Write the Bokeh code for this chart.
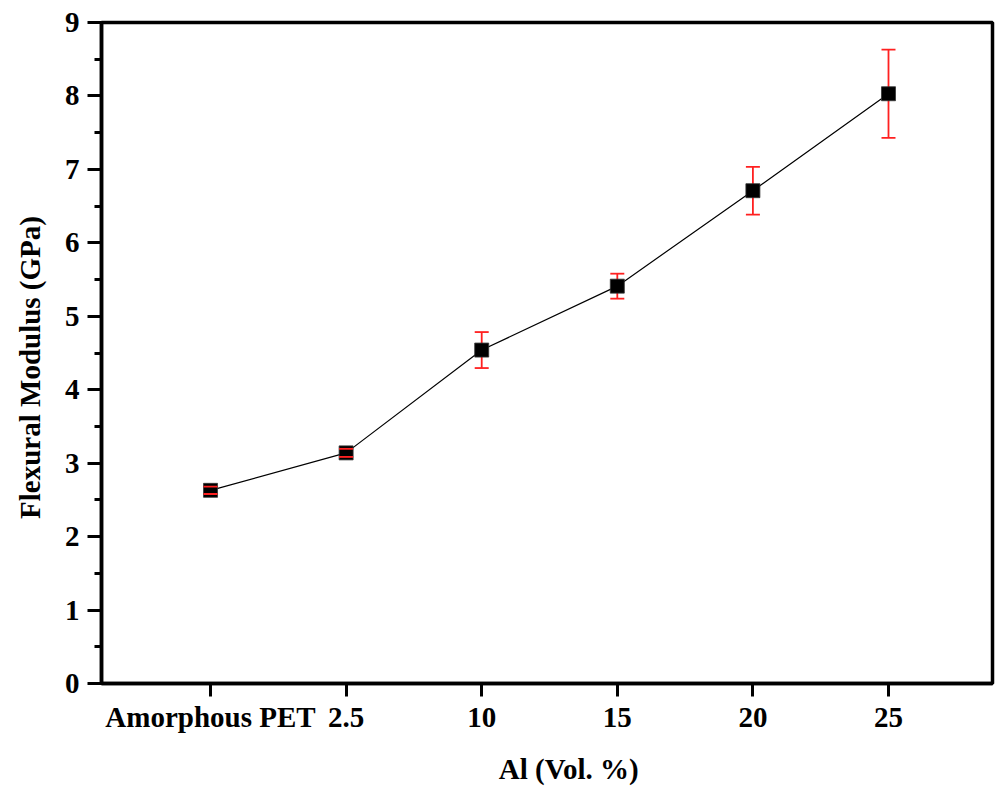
from bokeh.plotting import figure
from bokeh.models import Range1d, FixedTicker, ColumnDataSource
from bokeh.embed import file_html
from bokeh.resources import INLINE

# ---- data ----
categories = ["Amorphous PET", "2.5", "10", "15", "20", "25"]
modulus = [2.63, 3.14, 4.54, 5.41, 6.71, 8.03]
modulus_err = [0.05, 0.055, 0.245, 0.17, 0.325, 0.60]
y_ticks = [0, 1, 2, 3, 4, 5, 6, 7, 8, 9]
x_title = "Al (Vol. %)"
y_title = "Flexural Modulus (GPa)"

FONT = "Liberation Serif"
NB = "\u00a0"

xpos = list(range(len(categories)))
src = ColumnDataSource(dict(
    x=xpos,
    y=modulus,
    lo=[m - e for m, e in zip(modulus, modulus_err)],
    hi=[m + e for m, e in zip(modulus, modulus_err)],
))

p = figure(width=998, height=787, output_backend="svg", toolbar_location=None,
           x_range=Range1d(-0.804, 5.767), y_range=Range1d(0, 9),
           min_border_left=101, min_border_right=6, min_border_top=22,
           min_border_bottom=104)

p.background_fill_color = "white"
p.border_fill_color = "white"
p.outline_line_color = "black"
p.outline_line_width = 3.5
p.xgrid.visible = False
p.ygrid.visible = False

# connecting line
p.line("x", "y", source=src, line_color="black", line_width=1.2)
# error bar stems
p.segment(x0="x", y0="lo", x1="x", y1="hi", source=src, line_color="#ff2020", line_width=1.8)
# markers
p.scatter("x", "y", source=src, marker="square", size=14, fill_color="black",
          line_color="#333333", line_width=0.8)
# error bar caps
p.scatter("x", "hi", source=src, marker="dash", size=14, line_color="#ff2020", line_width=1.8)
p.scatter("x", "lo", source=src, marker="dash", size=14, line_color="#ff2020", line_width=1.8)

# x axis
xa = p.xaxis[0]
xa.ticker = FixedTicker(ticks=xpos)
xa.major_label_overrides = {i: c for i, c in zip(xpos, categories)}
xa.major_tick_out = 13
xa.major_tick_in = 0
xa.minor_tick_out = 0
xa.minor_tick_in = 0
xa.major_tick_line_width = 3
xa.axis_line_width = 3.5
xa.major_label_standoff = 4
xa.major_label_text_font = FONT
xa.major_label_text_font_style = "bold"
xa.major_label_text_font_size = "29px"
xa.major_label_text_color = "black"
xa.axis_label = NB * 6 + x_title
xa.axis_label_standoff = 17
xa.axis_label_text_font = FONT
xa.axis_label_text_font_style = "bold"
xa.axis_label_text_font_size = "29px"
xa.axis_label_text_color = "black"

# y axis
ya = p.yaxis[0]
ya.ticker = FixedTicker(ticks=y_ticks, minor_ticks=[t + 0.5 for t in y_ticks[:-1]])
ya.major_tick_out = 14
ya.major_tick_in = 0
ya.minor_tick_out = 7
ya.minor_tick_in = 0
ya.major_tick_line_width = 3
ya.minor_tick_line_width = 3
ya.axis_line_width = 3.5
ya.major_label_standoff = 8
ya.major_label_text_font = FONT
ya.major_label_text_font_style = "bold"
ya.major_label_text_font_size = "29px"
ya.major_label_text_color = "black"
ya.axis_label = y_title + NB * 4
ya.axis_label_standoff = 16
ya.axis_label_text_font = FONT
ya.axis_label_text_font_style = "bold"
ya.axis_label_text_font_size = "29px"
ya.axis_label_text_color = "black"

open("out.html", "w").write(file_html(p, INLINE))
